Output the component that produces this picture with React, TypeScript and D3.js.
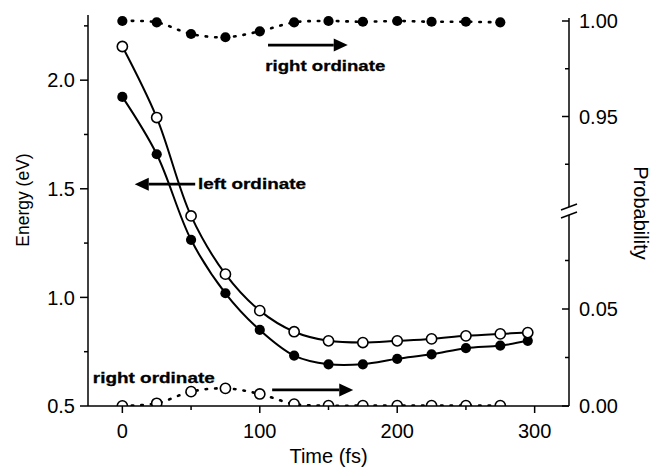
import React from "react";
import * as d3 from "d3";

// ---- data ----
const times = [0, 25, 50, 75, 100, 125, 150, 175, 200, 225, 250, 275, 295];
const energyOpen = [2.155, 1.828, 1.375, 1.107, 0.939, 0.842, 0.8, 0.792, 0.8, 0.809, 0.823, 0.832, 0.838];
const energyFilled = [1.923, 1.659, 1.265, 1.019, 0.85, 0.732, 0.692, 0.692, 0.717, 0.738, 0.766, 0.778, 0.8];
const probTimes = [0, 25, 50, 75, 100, 125, 150, 175, 200, 225, 250, 275];
const probFilled = [1.0, 0.9993, 0.9932, 0.9915, 0.9946, 0.9993, 1.0, 0.9996, 1.0, 0.9996, 0.9996, 0.9993];
const probOpen = [0.0001, 0.0014, 0.0074, 0.0091, 0.0062, 0.001, 0.0002, 0.0002, 0.0002, 0.0002, 0.0002, 0.0002];

const xTicks = [0, 100, 200, 300];
const xMinor = [50, 150, 250];
const leftTicks = [0.5, 1.0, 1.5, 2.0];
const leftMinor = [0.75, 1.25, 1.75, 2.25];
const rightLowTicks = [0.0, 0.05];
const rightLowMinor = [0.025, 0.075];
const rightHighTicks = [0.95, 1.0];
const rightHighMinor = [0.925, 0.975];

// annotations in data units
const annTopArrow = { x1: 106, x2: 164, y: 0.9874 };
const annLeftArrow = { x1: 53, x2: 9, y: 1.521 };
const annBottomArrow = { x1: 109, x2: 168, y: 0.0083 };
const annTopText = { x: 104, y: 0.9738, text: "right ordinate" };
const annLeftText = { x: 55, y: 1.497, text: "left ordinate" };
const annBottomText = { x: -21.5, y: 0.0117, text: "right ordinate" };

const W = 653, H = 468;
const L = 88, R = 569, B = 406, T = 15, BRK = 212;

export default function App() {
  const x = d3.scaleLinear().domain([-25, 325]).range([L, R]);
  const yL = d3.scaleLinear().domain([0.5, 2.3]).range([B, T]);
  const yRlo = d3.scaleLinear().domain([0, 0.1]).range([B, BRK]);
  const yRhi = d3.scaleLinear().domain([0.9, 1.0]).range([BRK, 21]);

  const curve = d3.curveCatmullRom.alpha(0.5);
  const lineE = d3.line<number>().x((_, i) => x(times[i])).y((d) => yL(d)).curve(curve);
  const linePF = d3.line<number>().x((_, i) => x(probTimes[i])).y((d) => yRhi(d)).curve(curve);
  const linePO = d3.line<number>().x((_, i) => x(probTimes[i])).y((d) => yRlo(d)).curve(curve);

  const font = "'Liberation Sans', Arial, Helvetica, sans-serif";
  const r = 5.1;

  const arrow = (x1: number, x2: number, y: number, key: string) => {
    const dir = Math.sign(x2 - x1);
    const headLen = 14, half = 6.5;
    const base = x2 - dir * headLen;
    return (
      <g key={key}>
        <line x1={x1} x2={base} y1={y} y2={y} stroke="#000" strokeWidth={2.8} />
        <path d={`M${x2},${y} L${base},${y - half} L${base},${y + half} Z`} fill="#000" />
      </g>
    );
  };

  const annText = (xx: number, yy: number, text: string, len: number, key: string) => (
    <text key={key} x={xx} y={yy} fontFamily={font} fontWeight="bold" fontSize={15.5}
      textLength={len} lengthAdjust="spacingAndGlyphs" stroke="#000" strokeWidth={0.3}>{text}</text>
  );

  return (
    <svg width={W} height={H} style={{ position: "absolute", left: 0, top: 0, background: "#fff" }}
      xmlns="http://www.w3.org/2000/svg">
      <rect x={0} y={0} width={W} height={H} fill="#fff" />
      <defs>
        <clipPath id="plotclip">
          <rect x={L} y={0} width={R - L} height={B} />
        </clipPath>
      </defs>

      {/* energy curves */}
      <path d={lineE(energyOpen) || ""} fill="none" stroke="#000" strokeWidth={2} />
      <path d={lineE(energyFilled) || ""} fill="none" stroke="#000" strokeWidth={2} />

      {/* probability dotted lines */}
      <path d={linePF(probFilled) || ""} fill="none" stroke="#000" strokeWidth={2.6}
        strokeDasharray="1.5 8" strokeLinecap="round" />
      <g clipPath="url(#plotclip)">
        <path d={linePO(probOpen) || ""} fill="none" stroke="#000" strokeWidth={2.6}
          strokeDasharray="1.5 8" strokeLinecap="round" />
        {probOpen.map((d, i) => (
          <circle key={"po" + i} cx={x(probTimes[i])} cy={yRlo(d)} r={r} fill="#fff" stroke="#000" strokeWidth={1.6} />
        ))}
      </g>
      {probFilled.map((d, i) => (
        <circle key={"pf" + i} cx={x(probTimes[i])} cy={yRhi(d)} r={r} fill="#000" />
      ))}

      {/* energy markers */}
      {energyFilled.map((d, i) => (
        <circle key={"ef" + i} cx={x(times[i])} cy={yL(d)} r={r} fill="#000" />
      ))}
      {energyOpen.map((d, i) => (
        <circle key={"eo" + i} cx={x(times[i])} cy={yL(d)} r={r} fill="#fff" stroke="#000" strokeWidth={1.6} />
      ))}

      {/* axes */}
      <g stroke="#000" strokeWidth={1.5}>
        <line x1={L} x2={L} y1={T} y2={B} />
        <line x1={L} x2={R} y1={B} y2={B} />
        <line x1={R} x2={R} y1={18} y2={BRK - 5} />
        <line x1={R} x2={R} y1={BRK + 3} y2={B} />
        <line x1={R - 8} x2={R + 8} y1={BRK - 2} y2={BRK - 8} />
        <line x1={R - 8} x2={R + 8} y1={BRK + 6} y2={BRK} />
        {leftTicks.map((t) => <line key={"lt" + t} x1={L - 8} x2={L} y1={yL(t)} y2={yL(t)} />)}
        {leftMinor.map((t) => <line key={"lm" + t} x1={L - 4} x2={L} y1={yL(t)} y2={yL(t)} />)}
        {xTicks.map((t) => <line key={"xt" + t} x1={x(t)} x2={x(t)} y1={B} y2={B + 7} />)}
        {xMinor.map((t) => <line key={"xm" + t} x1={x(t)} x2={x(t)} y1={B} y2={B + 4} />)}
        {rightLowTicks.map((t) => <line key={"rlt" + t} x1={R - 7} x2={R} y1={yRlo(t)} y2={yRlo(t)} />)}
        {rightLowMinor.map((t) => <line key={"rlm" + t} x1={R - 4} x2={R} y1={yRlo(t)} y2={yRlo(t)} />)}
        {rightHighTicks.map((t) => <line key={"rht" + t} x1={R - 7} x2={R} y1={yRhi(t)} y2={yRhi(t)} />)}
        {rightHighMinor.map((t) => <line key={"rhm" + t} x1={R - 4} x2={R} y1={yRhi(t)} y2={yRhi(t)} />)}
      </g>

      {/* tick labels */}
      <g fontFamily={font} fontSize={20} fill="#000">
        {leftTicks.map((t) => (
          <text key={"ll" + t} x={L - 13} y={yL(t)} dy="0.36em" textAnchor="end">{d3.format(".1f")(t)}</text>
        ))}
        {xTicks.map((t) => (
          <text key={"xl" + t} x={x(t)} y={B + 32} textAnchor="middle">{t}</text>
        ))}
        {rightLowTicks.map((t) => (
          <text key={"rll" + t} x={R + 10} y={yRlo(t)} dy="0.36em">{d3.format(".2f")(t)}</text>
        ))}
        {rightHighTicks.map((t) => (
          <text key={"rhl" + t} x={R + 10} y={yRhi(t)} dy="0.36em">{d3.format(".2f")(t)}</text>
        ))}
      </g>

      {/* axis titles */}
      <text x={(L + R) / 2} y={463} textAnchor="middle" fontFamily={font} fontSize={20}>Time (fs)</text>
      <text transform={`translate(29,200) rotate(-90)`} textAnchor="middle" fontFamily={font} fontSize={17.5}>Energy (eV)</text>
      <text transform={`translate(634,213) rotate(90)`} textAnchor="middle" fontFamily={font} fontSize={20}>Probability</text>

      {/* annotations */}
      {arrow(x(annTopArrow.x1), x(annTopArrow.x2), yRhi(annTopArrow.y), "a1")}
      {arrow(x(annLeftArrow.x1), x(annLeftArrow.x2), yL(annLeftArrow.y), "a2")}
      {arrow(x(annBottomArrow.x1), x(annBottomArrow.x2), yRlo(annBottomArrow.y), "a3")}
      {annText(x(annTopText.x), yRhi(annTopText.y), annTopText.text, 120, "t1")}
      {annText(x(annLeftText.x), yL(annLeftText.y), annLeftText.text, 108, "t2")}
      {annText(x(annBottomText.x), yRlo(annBottomText.y), annBottomText.text, 122, "t3")}
    </svg>
  );
}
